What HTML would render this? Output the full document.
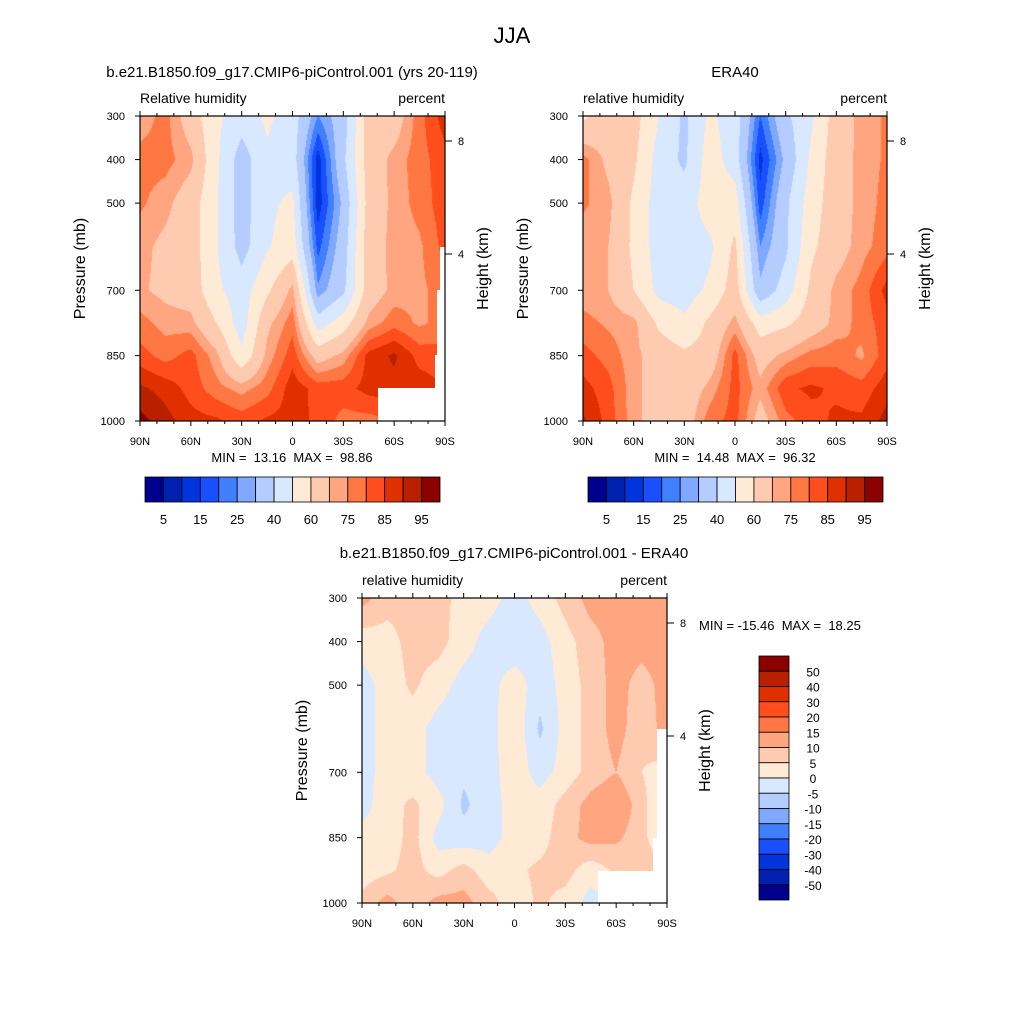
<!DOCTYPE html>
<html><head><meta charset="utf-8"><style>
html,body{margin:0;padding:0;background:#fff;}
#wrap{position:relative;width:1024px;height:1024px;overflow:hidden;font-family:"Liberation Sans",sans-serif;}
canvas{position:absolute;}
svg{position:absolute;left:0;top:0;}
text{white-space:pre;}
</style></head><body>
<div id="wrap">
<canvas id="c1" width="305" height="305" style="left:140px;top:116px"></canvas>
<canvas id="c2" width="304" height="305" style="left:583px;top:116px"></canvas>
<canvas id="c3" width="305" height="305" style="left:362px;top:598px"></canvas>
<svg id="ov" width="1024" height="1024"></svg>
</div>
<script>
// ---- data ----
const lats = ["90N","75N","60N","45N","30N","15N","0","15S","30S","45S","60S","75S","90S"];
const levels = [300,400,500,600,700,775,850,925,1000];
const rhLevels = [5,10,15,20,25,30,40,50,60,70,75,80,85,90,95];
const diffLevels = [-50,-40,-30,-20,-15,-10,-5,0,5,10,15,20,30,40,50];
const colors = ["#00008c","#0020b0","#0035dd","#1a4fff","#4080ff","#80a8ff","#b4ccff","#d8e8ff","#ffead6","#ffcbb0","#ffa580","#ff7844","#ff4e1e","#e03000","#b82000","#8c0000"];
const rhTickLabels = ["5","15","25","40","60","75","85","95"];
const diffTickLabels = ["50","40","30","20","15","10","5","0","-5","-10","-15","-20","-30","-40","-50"];
const pressureTicks = [300,400,500,700,850,1000];
const modelRH = [
 [72,77,65,52,45,52,45,25,35,65,65,78,88],
 [77,77,72,52,35,48,45,12,38,65,72,78,83],
 [76,72,65,51,35,48,52,12,32,64,72,77,83],
 [72,68,65,51,36,49,55,18,35,66,72,74,82],
 [71,68,66,52,45,58,72,26,38,65,72,74,77],
 [77,73,72,60,45,68,78,45,55,72,78,74,77],
 [82,78,82,72,52,72,83,66,72,87,91,83,82],
 [91,88,83,77,73,78,88,83,83,87,88,88,85],
 [97,92,87,86,83,86,87,84,78,78,80,80,80]];
const eraRH = [
 [58,65,64,50,38,52,45,20,38,48,65,72,76],
 [77,68,62,46,38,55,45,13,32,52,66,72,76],
 [76,72,58,45,45,55,55,17,38,55,66,72,77],
 [72,70,58,45,45,48,62,25,38,58,66,73,78],
 [72,70,60,47,45,52,65,32,45,62,72,77,87],
 [77,74,72,58,52,62,72,55,58,65,72,77,83],
 [82,78,72,66,62,64,82,66,72,77,78,74,83],
 [87,82,72,66,64,72,82,72,84,86,84,82,88],
 [91,83,72,66,65,78,82,66,78,83,86,86,92]];
const diffRH = [
 [12,7,7,7,3,2,-2,2,7,12,12,12,12],
 [2,3,7,7,2,-2,-4,-2,3,8,12,12,12],
 [-2,2,6,2,-2,-2,3,-3,2,7,12,8,12],
 [-2,2,2,-2,-2,-2,4,-6,2,7,12,7,12],
 [-2,2,2,-2,-4,-2,3,-2,2,7,10,5,2],
 [-2,3,6,2,-6,-2,2,2,7,12,15,7,-2],
 [2,2,7,-2,-3,-2,2,3,8,12,11,7,-2],
 [2,4,7,3,7,2,4,6,7,2,6,10,5],
 [7,12,7,12,12,7,2,6,3,-2,0,0,0]];

function levIdx(v, lv){let i=0;while(i<lv.length && v>=lv[i]) i++;return i;}
function hex(c){return [parseInt(c.substr(1,2),16),parseInt(c.substr(3,2),16),parseInt(c.substr(5,2),16)];}
const rgb = colors.map(hex);
function sample(grid, fx, p){
  const nx = lats.length-1;
  let gx = fx*nx; let i = Math.min(Math.floor(gx), nx-1); let tx = gx-i;
  let j=0; while(j<levels.length-2 && p>levels[j+1]) j++;
  let ty=(p-levels[j])/(levels[j+1]-levels[j]);
  const a=grid[j][i],b=grid[j][i+1],c=grid[j+1][i],d=grid[j+1][i+1];
  return (a*(1-tx)+b*tx)*(1-ty)+(c*(1-tx)+d*tx)*ty;
}
function render(id, grid, lv){
  const cv=document.getElementById(id), ctx=cv.getContext('2d');
  const W=cv.width,H=cv.height, img=ctx.createImageData(W,H);
  for(let y=0;y<H;y++){const p=300+(y+0.5)/H*700;
    for(let x=0;x<W;x++){const v=sample(grid,(x+0.5)/W,p);const col=rgb[levIdx(v,lv)];
      const k=(y*W+x)*4;img.data[k]=col[0];img.data[k+1]=col[1];img.data[k+2]=col[2];img.data[k+3]=255;}}
  ctx.putImageData(img,0,0);
}
render('c1',modelRH,rhLevels);
render('c2',eraRH,rhLevels);
render('c3',diffRH,diffLevels);

// ---- overlay ----
const NS="http://www.w3.org/2000/svg", ov=document.getElementById('ov');
function el(tag,attrs,text){const e=document.createElementNS(NS,tag);for(const k in attrs)e.setAttribute(k,attrs[k]);if(text!==undefined)e.textContent=text;ov.appendChild(e);return e;}
function txt(x,y,s,size,anchor,name,rot){const e=el('text',{x:x,y:y,'font-size':size,'text-anchor':anchor||'middle','font-family':'Liberation Sans, sans-serif',fill:'#000'},s);
  if(rot)e.setAttribute('transform','rotate(-90 '+x+' '+y+')');
  
  
  return e;}

function panel(x0,y0,W,H,masks,prefix){
  masks.forEach(m=>{const e=el('polygon',{points:m,fill:'#fff'});
    
    });
  const b=el('rect',{x:x0,y:y0,width:W,height:H,fill:'none',stroke:'#000','stroke-width':1.2});
  
  
  const xs=v=>x0+(v+90)/180*W;
  for(let d=-90;d<=90;d+=10){const maj=(d%30===0);const L=maj?5:3;const X=xs(d);
    el('line',{x1:X,y1:y0+H,x2:X,y2:y0+H+L,stroke:'#000','stroke-width':1});
    el('line',{x1:X,y1:y0,x2:X,y2:y0-L,stroke:'#000','stroke-width':1});}
  lats.forEach((l,i)=>{if(i%2===0) txt(x0+i/(lats.length-1)*W,y0+H+24,l,11,'middle',prefix+'-x-tick-'+l);});
  const ys=p=>y0+(p-300)/700*H;
  pressureTicks.forEach(p=>{const Y=ys(p);el('line',{x1:x0-5,y1:Y,x2:x0,y2:Y,stroke:'#000'});
    txt(x0-15,Y+4,String(p),11,'end',prefix+'-y-tick-'+p);});
  [[8,25],[4,138]].forEach(h=>{const Y=y0+h[1];el('line',{x1:x0+W,y1:Y,x2:x0+W+7,y2:Y,stroke:'#000'});
    txt(x0+W+13,Y+4,String(h[0]),11,'start',prefix+'-height-tick-'+h[0]);});
  txt(x0-55,y0+H/2,'Pressure (mb)',16,'middle',prefix+'-y-axis-title',true);
  txt(x0+W+43,y0+H/2,'Height (km)',16,'middle',prefix+'-height-axis-title',true);
}
function hbar(x0,y0,W,H,prefix){
  const n=colors.length,w=W/n;
  colors.forEach((c,i)=>{const r=el('rect',{x:x0+i*w,y:y0,width:w,height:H,fill:c,stroke:'#000','stroke-width':0.8});
    
    });
  rhTickLabels.forEach((s,k)=>{txt(x0+(2*k+1)*w,y0+H+22,s,13,'middle',prefix+'-colorbar-label');});
}

txt(512,43,'JJA',22,'middle','figure-title');
txt(292,77,'b.e21.B1850.f09_g17.CMIP6-piControl.001 (yrs 20-119)',15,'middle','model-panel-title');
txt(140,103,'Relative humidity',14,'start','model-left-subtitle');
txt(445,103,'percent',14,'end','model-units');
panel(140,116,305,305,["378,388 445,388 445,421 378,421","440,247 446,247 446,421 435,421 435,355 437,355 437,290 440,290"],'model');
txt(292,462,'MIN =  13.16  MAX =  98.86',13,'middle','model-min-max');
hbar(145,477,295,25,'model');
txt(735,77,'ERA40',15,'middle','era40-panel-title');
txt(583,103,'relative humidity',14,'start','era40-left-subtitle');
txt(887,103,'percent',14,'end','era40-units');
panel(583,116,304,305,[],'era40');
txt(735,462,'MIN =  14.48  MAX =  96.32',13,'middle','era40-min-max');
hbar(588,477,295,25,'era40');
txt(514,558,'b.e21.B1850.f09_g17.CMIP6-piControl.001 - ERA40',15,'middle','difference-panel-title');
txt(362,585,'relative humidity',14,'start','difference-left-subtitle');
txt(667,585,'percent',14,'end','difference-units');
panel(362,598,305,305,["598,871 668,871 668,903 598,903","657,729 668,729 668,871 653,871 653,838 657,838"],'difference');
txt(699,630,'MIN = -15.46  MAX =  18.25',13,'start','difference-min-max');
(function(){const x0=759,y0=656,W=30,H=244,n=colors.length,h=H/n;
  for(let i=0;i<n;i++){const r=el('rect',{x:x0,y:y0+i*h,width:W,height:h,fill:colors[n-1-i],stroke:'#000','stroke-width':0.8});
    
    }
  diffTickLabels.forEach((s,k)=>{txt(x0+W+24,y0+(k+1)*h+5,s,12,'middle','difference-colorbar-label');});
})();
</script>
</body></html>
